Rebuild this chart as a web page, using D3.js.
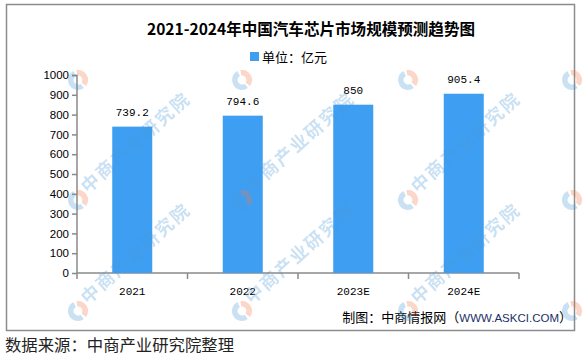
<!DOCTYPE html>
<html>
<head>
<meta charset="utf-8">
<script src="https://cdn.jsdelivr.net/npm/d3@7"></script>
<style>
html,body{margin:0;padding:0;background:#fff;}
svg{display:block;}
</style>
</head>
<body>
<svg id="chart" width="584" height="355"></svg>
<script>
const categories = ["2021", "2022", "2023E", "2024E"];
const values = [739.2, 794.6, 850, 905.4];
const valueLabels = ["739.2", "794.6", "850", "905.4"];
const yTicks = [0, 100, 200, 300, 400, 500, 600, 700, 800, 900, 1000];
const titleText = "2021-2024年中国汽车芯片市场规模预测趋势图";
const legendText = "单位：亿元";
const creditCn = "制图：中商情报网（";
const creditUrl = "WWW.ASKCI.COM";
const creditEnd = "）";
const sourceText = "数据来源：中商产业研究院整理";
const watermarkText = "中商产业研究院";

const svg = d3.select("#chart");
const W = 584, H = 355;
const barColor = "#3d9ef2";
const axisColor = "#8a8a8a";
const cjk = "'Noto Sans CJK SC', 'Noto Sans', sans-serif";

svg.append("rect").attr("width", W).attr("height", H).attr("fill", "#fff");

// frame
svg.append("rect")
  .attr("x", 6.5).attr("y", 4.5).attr("width", 568).attr("height", 326)
  .attr("fill", "none").attr("stroke", "#8c8c8c").attr("stroke-width", 1.5);

const x = d3.scaleBand().domain(categories).range([77, 519]).padding(0);
const y = d3.scaleLinear().domain([0, 1000]).range([273, 75]);
const barW = x.bandwidth() * 0.362;

// title
svg.append("text")
  .attr("x", 311).attr("y", 35)
  .attr("text-anchor", "middle")
  .attr("font-family", cjk).attr("font-weight", "bold").attr("font-size", 16)
  .attr("fill", "#000")
  .attr("textLength", 328).attr("lengthAdjust", "spacingAndGlyphs")
  .text(titleText);

// legend
svg.append("rect").attr("x", 250).attr("y", 52).attr("width", 9).attr("height", 9)
  .attr("fill", barColor);
svg.append("text").attr("x", 262).attr("y", 61.5)
  .attr("font-family", cjk).attr("font-size", 13).attr("fill", "#000")
  .text(legendText);

// y axis
const yAxis = d3.axisLeft(y).tickValues(yTicks).tickSize(5).tickPadding(3).tickFormat(d3.format("d"));
const gy = svg.append("g").attr("transform", "translate(77,0)").call(yAxis);
gy.select(".domain").attr("stroke", axisColor).attr("stroke-width", 1.5).attr("d", "M-5,75.5H0V273");
gy.selectAll(".tick line").attr("stroke", axisColor).attr("stroke-width", 1.5);
gy.selectAll(".tick text").attr("font-family", "'Liberation Sans', Arial, sans-serif")
  .attr("font-size", 11.5).attr("fill", "#000");

// x axis
const xAxis = d3.axisBottom(x).tickSize(0).tickPadding(14);
const gx = svg.append("g").attr("transform", "translate(0,273)").call(xAxis);
gx.select(".domain").attr("stroke", axisColor).attr("stroke-width", 1.5).attr("d", "M77,0H519");
gx.selectAll(".tick text").attr("font-family", "'Liberation Mono', 'DejaVu Sans Mono', monospace")
  .attr("font-size", 11).attr("fill", "#000");
// boundary ticks
const boundaries = categories.map(c => x(c)).concat([x(categories[categories.length - 1]) + x.bandwidth()]);
svg.append("g").selectAll("line").data(boundaries).join("line")
  .attr("x1", d => d).attr("x2", d => d).attr("y1", 273).attr("y2", 279)
  .attr("stroke", axisColor).attr("stroke-width", 1.5);

// bars
svg.append("g").selectAll("rect").data(values).join("rect")
  .attr("x", (d, i) => x(categories[i]) + x.bandwidth() / 2 - barW / 2)
  .attr("y", d => y(d))
  .attr("width", barW)
  .attr("height", d => y(0) - y(d))
  .attr("fill", barColor);

// value labels
svg.append("g").selectAll("text").data(values).join("text")
  .attr("x", (d, i) => x(categories[i]) + x.bandwidth() / 2)
  .attr("y", d => y(d) - 11)
  .attr("text-anchor", "middle")
  .attr("font-family", "'Liberation Mono', 'DejaVu Sans Mono', monospace")
  .attr("font-size", 11).attr("fill", "#000")
  .text((d, i) => valueLabels[i]);

// credit
const credit = svg.append("text").attr("x", 572).attr("y", 322)
  .attr("text-anchor", "end")
  .attr("font-family", cjk).attr("font-size", 13).attr("fill", "#000");
credit.append("tspan").text(creditCn);
credit.append("tspan").attr("font-family", "'Liberation Sans', Arial, sans-serif")
  .attr("font-size", 11.5).attr("fill", "#1c2f66").text(creditUrl);
credit.append("tspan").text(creditEnd);

// source
svg.append("text").attr("x", 5).attr("y", 351)
  .attr("font-family", cjk).attr("font-size", 16).attr("fill", "#222")
  .attr("textLength", 229).attr("lengthAdjust", "spacingAndGlyphs")
  .text(sourceText);

// watermark overlay (logos everywhere, text only where it fits inside the picture)
const wm = svg.append("g").attr("opacity", 0.3).attr("pointer-events", "none");
const colsX = [-86, 78, 242, 408, 572];
const rowsY = [80, 200, 311];
const arcBlue = d3.arc().innerRadius(4.5).outerRadius(10).startAngle(Math.PI * 0.8).endAngle(Math.PI * 1.85);
const arcOrange = d3.arc().innerRadius(4.5).outerRadius(10).startAngle(-Math.PI * 0.05).endAngle(Math.PI * 0.7);
rowsY.forEach(ry => colsX.forEach(cx => {
  const g = wm.append("g").attr("transform", `translate(${cx},${ry})`);
  g.append("path").attr("d", arcBlue()).attr("fill", "#4f9bd6");
  g.append("path").attr("d", arcOrange()).attr("fill", "#f07a4a");
  const fits = cx > 0 && cx + 160 < W && ry - 120 > 0;
  if (fits) {
    g.append("text").attr("transform", "translate(10,-6) rotate(-42)")
      .attr("font-family", cjk).attr("font-weight", "bold").attr("font-size", 18)
      .attr("letter-spacing", 2).attr("fill", "#4f9bd6")
      .text(watermarkText);
  }
}));
</script>
</body>
</html>
